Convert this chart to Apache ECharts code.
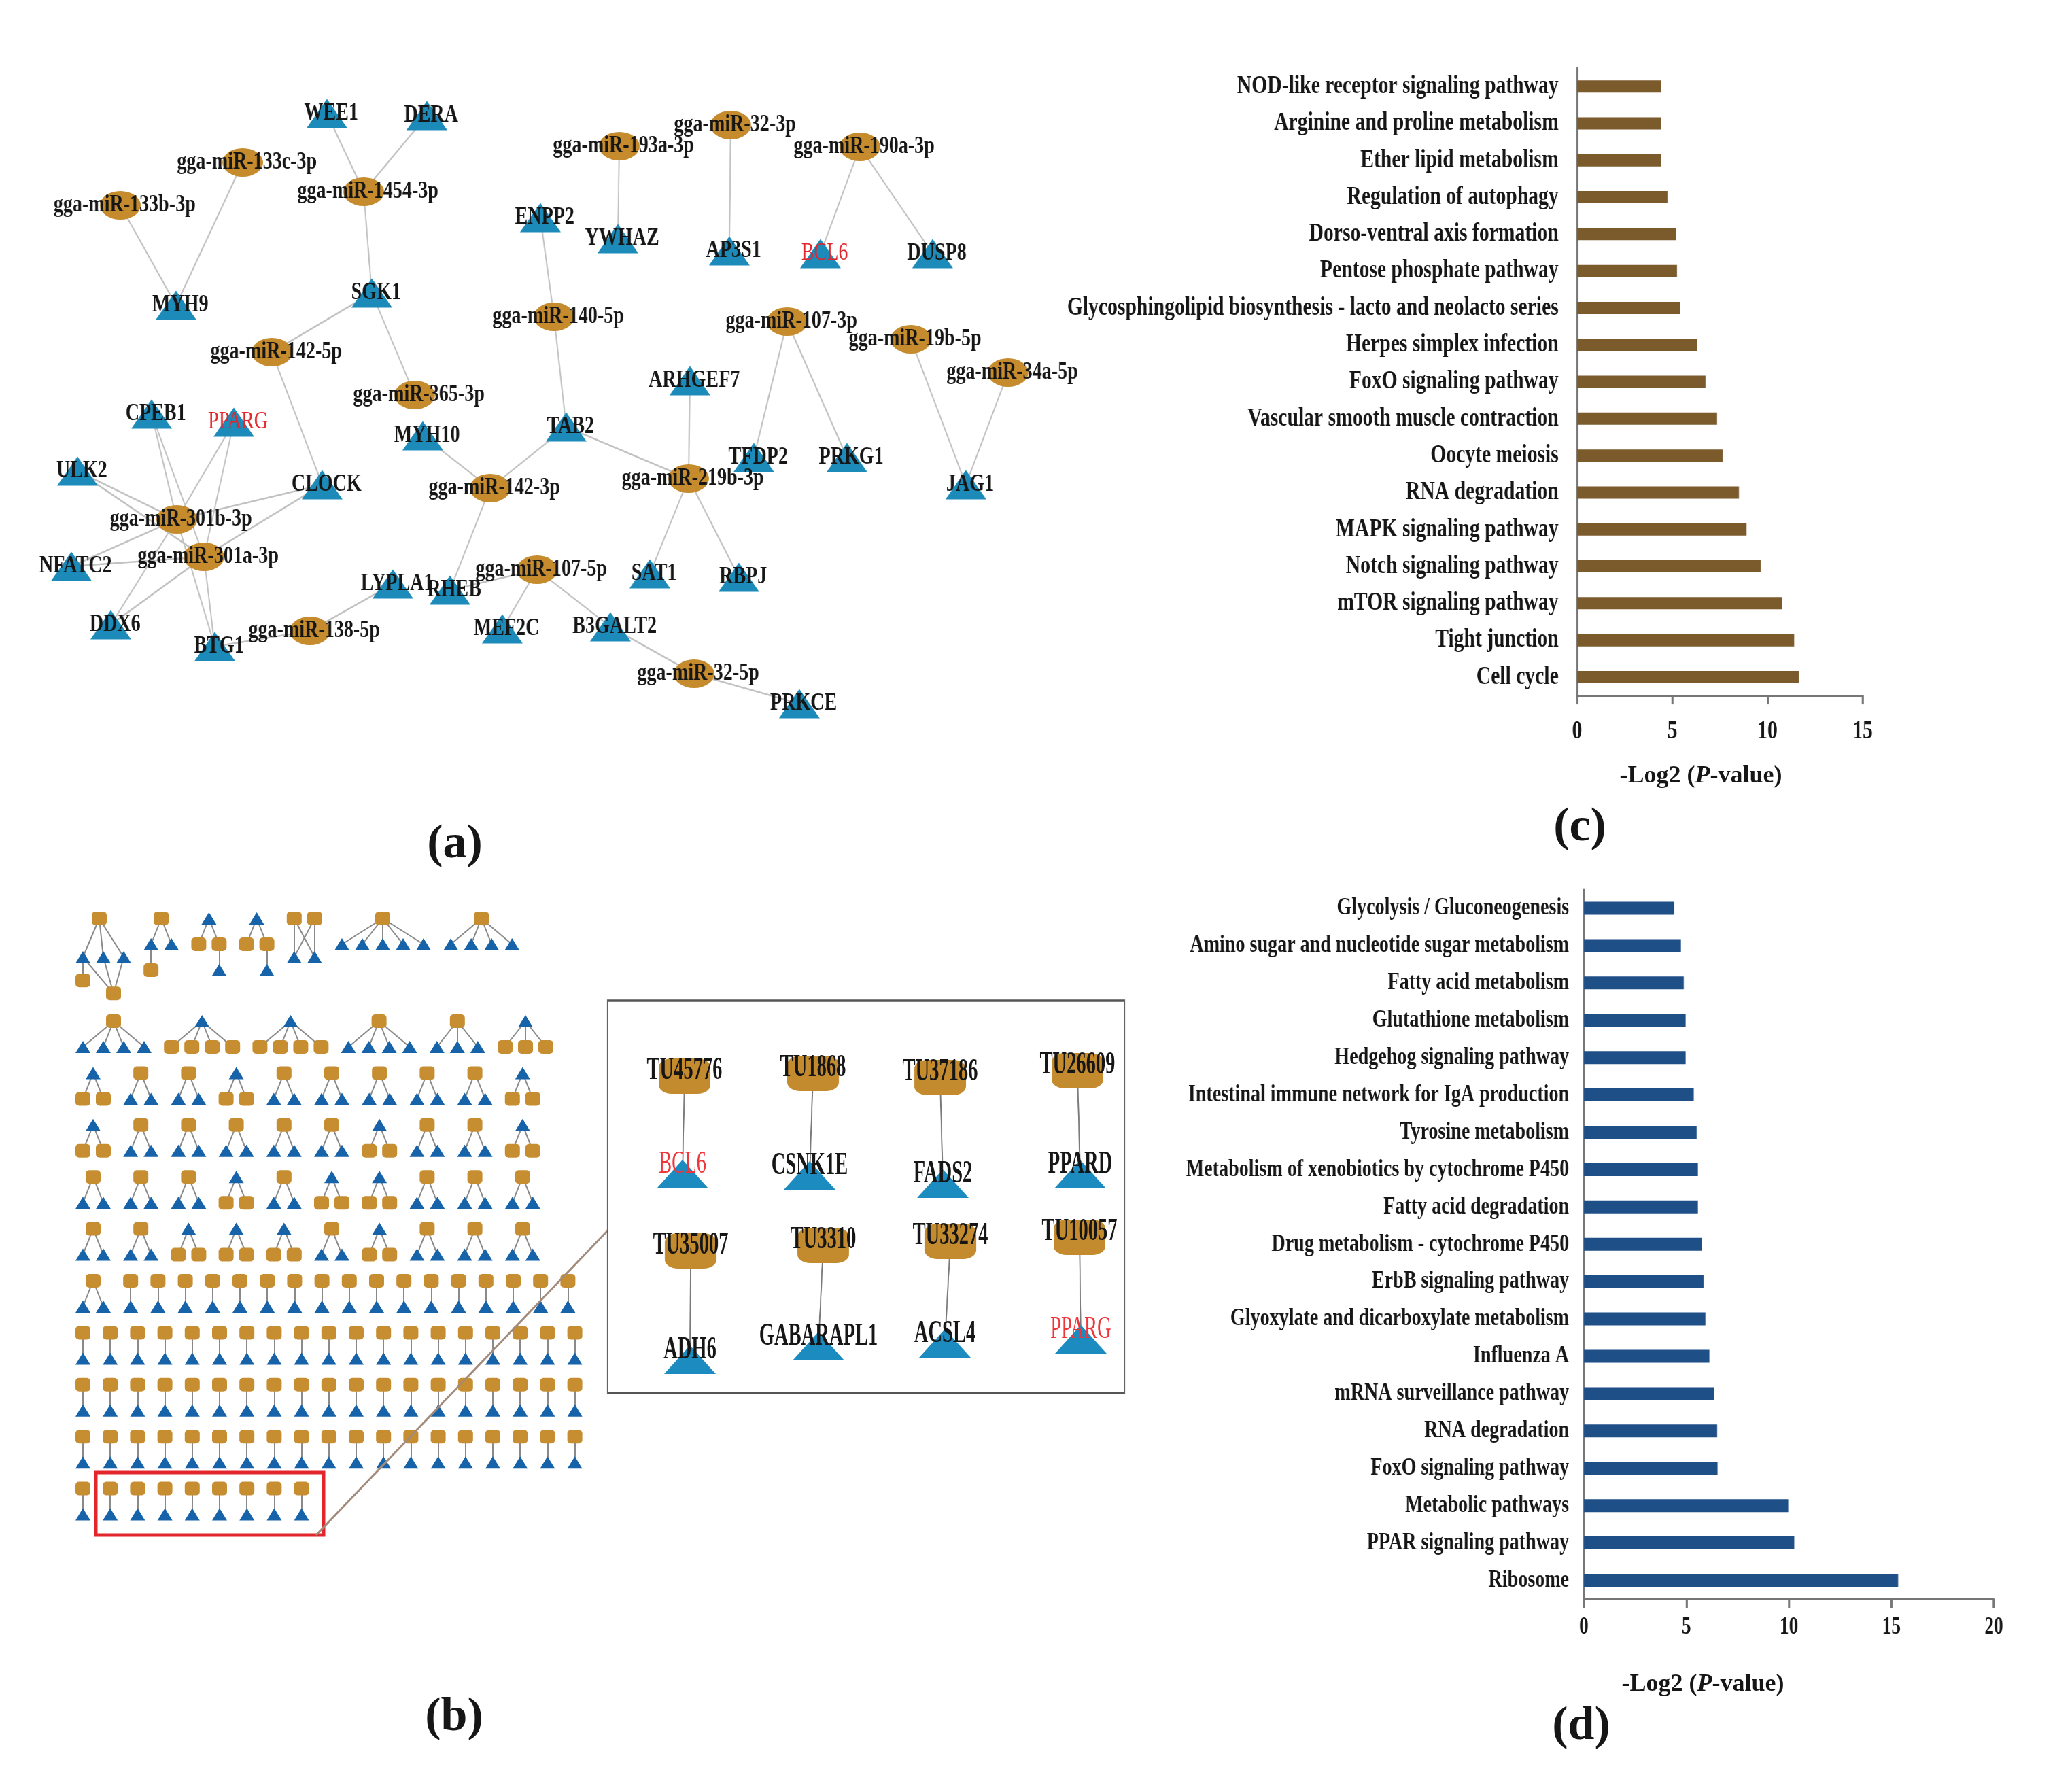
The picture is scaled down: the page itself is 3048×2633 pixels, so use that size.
<!DOCTYPE html>
<html>
<head>
<meta charset="utf-8">
<title>miRNA / lncRNA networks and KEGG enrichment</title>
<script src="https://cdn.jsdelivr.net/npm/echarts/dist/echarts.min.js"></script>
<style>
html,body{margin:0;padding:0;background:#fff;}
#stage{position:relative;width:3048px;height:2633px;overflow:hidden;background:#fff;}
#main,#netA,#bars,#inset{position:absolute;}
</style>
</head>
<body>
<div id="stage"><div id="main"></div><div id="netA"></div><div id="bars"></div><div id="inset"></div></div>
<script>
// ================= DATA =================
// ---- Panel (a): miRNA – mRNA network ----
const aMiRNAs = ['gga-miR-133c-3p','gga-miR-1454-3p','gga-miR-133b-3p','gga-miR-193a-3p','gga-miR-32-3p',
  'gga-miR-190a-3p','gga-miR-140-5p','gga-miR-142-5p','gga-miR-365-3p','gga-miR-107-3p','gga-miR-19b-5p',
  'gga-miR-34a-5p','gga-miR-142-3p','gga-miR-219b-3p','gga-miR-301b-3p','gga-miR-301a-3p','gga-miR-107-5p',
  'gga-miR-138-5p','gga-miR-32-5p'];
const aGenes = ['WEE1','DERA','ENPP2','YWHAZ','AP3S1','BCL6','DUSP8','MYH9','SGK1','ARHGEF7','CPEB1','PPARG',
  'MYH10','TAB2','TFDP2','PRKG1','ULK2','CLOCK','JAG1','NFATC2','SAT1','RBPJ','LYPLA1','RHEB','B3GALT2',
  'DDX6','MEF2C','BTG1','PRKCE'];
const aHighlighted = ['BCL6','PPARG'];
const aEdges = [
  ['gga-miR-133c-3p','MYH9'],['gga-miR-133b-3p','MYH9'],
  ['gga-miR-1454-3p','WEE1'],['gga-miR-1454-3p','DERA'],['gga-miR-1454-3p','SGK1'],
  ['gga-miR-142-5p','SGK1'],['gga-miR-365-3p','SGK1'],['gga-miR-142-5p','CLOCK'],
  ['gga-miR-193a-3p','YWHAZ'],['gga-miR-32-3p','AP3S1'],['gga-miR-190a-3p','BCL6'],['gga-miR-190a-3p','DUSP8'],
  ['gga-miR-140-5p','ENPP2'],['gga-miR-140-5p','TAB2'],['gga-miR-142-3p','TAB2'],['gga-miR-219b-3p','TAB2'],
  ['gga-miR-142-3p','MYH10'],['gga-miR-142-3p','RHEB'],
  ['gga-miR-219b-3p','ARHGEF7'],['gga-miR-219b-3p','SAT1'],['gga-miR-219b-3p','RBPJ'],
  ['gga-miR-107-3p','TFDP2'],['gga-miR-107-3p','PRKG1'],
  ['gga-miR-19b-5p','JAG1'],['gga-miR-34a-5p','JAG1'],
  ['gga-miR-107-5p','RHEB'],['gga-miR-107-5p','MEF2C'],['gga-miR-107-5p','B3GALT2'],
  ['gga-miR-32-5p','B3GALT2'],['gga-miR-32-5p','PRKCE'],
  ['gga-miR-138-5p','LYPLA1'],['gga-miR-138-5p','BTG1'],
  ['gga-miR-301b-3p','CPEB1'],['gga-miR-301b-3p','PPARG'],['gga-miR-301b-3p','ULK2'],['gga-miR-301b-3p','CLOCK'],
  ['gga-miR-301b-3p','NFATC2'],['gga-miR-301b-3p','DDX6'],['gga-miR-301b-3p','BTG1'],
  ['gga-miR-301a-3p','CPEB1'],['gga-miR-301a-3p','PPARG'],['gga-miR-301a-3p','ULK2'],['gga-miR-301a-3p','CLOCK'],
  ['gga-miR-301a-3p','NFATC2'],['gga-miR-301a-3p','DDX6'],['gga-miR-301a-3p','BTG1']
];
// network layout of panel (a) (node centres, in figure units)
const aLayout = {
  'gga-miR-133c-3p':[357,239],'gga-miR-1454-3p':[535,282],'gga-miR-133b-3p':[177,302],'gga-miR-193a-3p':[911,215],
  'gga-miR-32-3p':[1075,184],'gga-miR-190a-3p':[1265,216],'gga-miR-140-5p':[815,466],'gga-miR-142-5p':[400,518],
  'gga-miR-365-3p':[610,581],'gga-miR-107-3p':[1158,473],'gga-miR-19b-5p':[1340,499],'gga-miR-34a-5p':[1483,548],
  'gga-miR-142-3p':[721,718],'gga-miR-219b-3p':[1013,704],'gga-miR-301b-3p':[260,764],'gga-miR-301a-3p':[300,819],
  'gga-miR-107-5p':[790,838],'gga-miR-138-5p':[456,928],'gga-miR-32-5p':[1021,991],
  'WEE1':[481,167],'DERA':[628,170],'ENPP2':[795,320],'YWHAZ':[909,351],'AP3S1':[1073,369],'BCL6':[1207,373],
  'DUSP8':[1372,373],'MYH9':[259,449],'SGK1':[547,431],'ARHGEF7':[1015,560],'CPEB1':[223,609],'PPARG':[344,621],
  'MYH10':[622,641],'TAB2':[833,628],'TFDP2':[1109,673],'PRKG1':[1246,673],'ULK2':[114,693],'CLOCK':[474,713],
  'JAG1':[1421,713],'NFATC2':[105,833],'SAT1':[956,844],'RBPJ':[1087,849],'LYPLA1':[578,859],'RHEB':[662,868],
  'B3GALT2':[898,922],'DDX6':[163,919],'MEF2C':[739,925],'BTG1':[316,951],'PRKCE':[1176,1035]
};

// ---- Panel (b): lncRNA (square) – mRNA (triangle) components, row by row ----
// row 1: irregular components; nodes = [slot, depth, shape], links = node index pairs
const bRow1 = [
  {slots:3, nodes:[[0.8,0,'S'],[0,1.5,'T'],[1,1.5,'T'],[2,1.5,'T'],[0,2.4,'S'],[1.5,2.9,'S']],
   links:[[0,1],[0,2],[0,3],[1,4],[1,5],[2,5],[3,5]]},
  {slots:2, nodes:[[0.5,0,'S'],[0,1,'T'],[1,1,'T'],[0,2,'S']], links:[[0,1],[0,2],[1,3]]},
  {slots:2, nodes:[[0.5,0,'T'],[0,1,'S'],[1,1,'S'],[1,2,'T']], links:[[0,1],[0,2],[2,3]]},
  {slots:2, nodes:[[0.5,0,'T'],[0,1,'S'],[1,1,'S'],[1,2,'T']], links:[[0,1],[0,2],[2,3]]},
  {slots:2, nodes:[[0,0,'S'],[1,0,'S'],[0,1.5,'T'],[1,1.5,'T']], links:[[0,2],[0,3],[1,2],[1,3]]},
  {slots:5, nodes:[[2,0,'S'],[0,1,'T'],[1,1,'T'],[2,1,'T'],[3,1,'T'],[4,1,'T']], links:[[0,1],[0,2],[0,3],[0,4],[0,5]]},
  {slots:4, nodes:[[1.5,0,'S'],[0,1,'T'],[1,1,'T'],[2,1,'T'],[3,1,'T']], links:[[0,1],[0,2],[0,3],[0,4]]}
];
// rows 2..11: motif codes, parent shape (S = lncRNA, T = mRNA) + number of children
const bRows = [
  ['S4','T4','T4','S4','S3','T3'],
  ['T2','S2','S2','T2','S2','S2','S2','S2','S2','T2'],
  ['T2','S2','S2','S2','S2','S2','T2','S2','S2','T2'],
  ['S2','S2','S2','T2','S2','T2','T2','S2','S2','S2'],
  ['S2','S2','T2','T2','T2','S2','T2','S2','S2','S2'],
  ['S2'].concat(Array(17).fill('S1')),
  Array(19).fill('S1'),
  Array(19).fill('S1'),
  Array(19).fill('S1'),
  Array(9).fill('S1')
];

// ---- Panel (b) inset: highlighted lncRNA – target pairs ----
const insetPairs = [['TU45776','BCL6'],['TU1868','CSNK1E'],['TU37186','FADS2'],['TU26609','PPARD'],
  ['TU35007','ADH6'],['TU3310','GABARAPL1'],['TU33274','ACSL4'],['TU10057','PPARG']];
const insetHighlighted = ['BCL6','PPARG'];
// inset layout (lncRNA centre, gene centre), in inset units
const insetLayout = [[[113,111],[110,255]],[[302,107],[297,257]],[[489,113],[493,269]],[[691,103],[695,255]],
  [[122,368],[121,528]],[[317,360],[310,508]],[[504,354],[496,504]],[[694,348],[696,498]]];

// ---- Panel (c): KEGG enrichment, miRNA targets ----
const cTerms = ['NOD-like receptor signaling pathway','Arginine and proline metabolism','Ether lipid metabolism',
  'Regulation of autophagy','Dorso-ventral axis formation','Pentose phosphate pathway',
  'Glycosphingolipid biosynthesis - lacto and neolacto series','Herpes simplex infection','FoxO signaling pathway',
  'Vascular smooth muscle contraction','Oocyte meiosis','RNA degradation','MAPK signaling pathway',
  'Notch signaling pathway','mTOR signaling pathway','Tight junction','Cell cycle'];
const cValues = [4.4,4.4,4.4,4.75,5.2,5.25,5.4,6.3,6.75,7.35,7.65,8.5,8.9,9.65,10.75,11.4,11.65];
const cTicks = [0,5,10,15];

// ---- Panel (d): KEGG enrichment, lncRNA targets ----
const dTerms = ['Glycolysis / Gluconeogenesis','Amino sugar and nucleotide sugar metabolism','Fatty acid metabolism',
  'Glutathione metabolism','Hedgehog signaling pathway','Intestinal immune network for IgA production',
  'Tyrosine metabolism','Metabolism of xenobiotics by cytochrome P450','Fatty acid degradation',
  'Drug metabolism - cytochrome P450','ErbB signaling pathway','Glyoxylate and dicarboxylate metabolism',
  'Influenza A','mRNA surveillance pathway','RNA degradation','FoxO signaling pathway','Metabolic pathways',
  'PPAR signaling pathway','Ribosome'];
const dValues = [4.4,4.73,4.87,4.96,4.96,5.36,5.5,5.56,5.56,5.75,5.84,5.93,6.12,6.35,6.5,6.52,9.97,10.26,15.33];
const dTicks = [0,5,10,15,20];

const panelLabels = ['(a)','(b)','(c)','(d)'];
const axisTitle = ['-Log2 (','P','-value)'];

// ================= STYLE / LAYOUT =================
const FONT = '"Liberation Serif","Times New Roman",serif';
const W = 3048, H = 2633;
const TXT = '#161616', RED = '#e3262b';
const GOLD_A = '#c58b2d', BLUE_A = '#1c8bba', GOLD_B = '#c78e31', BLUE_B = '#1663a9';

function place(el, l, t, w, h, sx) {
  el.style.left = l + 'px'; el.style.top = t + 'px';
  el.style.width = w + 'px'; el.style.height = h + 'px';
  if (sx) { el.style.transform = 'scaleX(' + sx + ')'; el.style.transformOrigin = '0 0'; }
}

// ---- build panel (b) nodes by packing components along each row ----
const B_X0 = 122, B_SLOT = 30, B_GAP = 40.2, B_DEPTH = 38, B_TOP1 = 1351, B_TOP2 = 1502, B_ROWSTEP = 76.4;
const bNodes = [], bLinks = [];
function motif(code) {
  const shape = code[0], n = +code.slice(1), child = shape === 'S' ? 'T' : 'S';
  const nodes = [[(n - 1) / 2, 0, shape]], links = [];
  for (let k = 0; k < n; k++) { nodes.push([k, 1, child]); links.push([0, k + 1]); }
  return {slots: n, nodes, links};
}
function packRow(comps, y0) {
  let x = B_X0;
  comps.forEach(c => {
    const base = bNodes.length;
    c.nodes.forEach(([slot, depth, shape]) => {
      bNodes.push({
        name: 'b' + bNodes.length, value: [x + slot * B_SLOT, y0 + depth * B_DEPTH],
        symbol: shape === 'S' ? 'roundRect' : 'triangle',
        symbolSize: shape === 'S' ? [22, 20] : [22, 18],
        itemStyle: {color: shape === 'S' ? GOLD_B : BLUE_B}
      });
    });
    c.links.forEach(([i, j]) => bLinks.push({source: base + i, target: base + j}));
    x += (c.slots - 1) * B_SLOT + B_GAP;
  });
}
packRow(bRow1, B_TOP1);
bRows.forEach((row, r) => packRow(row.map(motif), B_TOP2 + r * B_ROWSTEP));

// ================= MAIN CHART (panel b + annotations) =================
const mainEl = document.getElementById('main');
place(mainEl, 0, 0, W, H);
const main = echarts.init(mainEl);
const rich35 = {
  n: {fontFamily: FONT, fontSize: 36, fontWeight: 'bold', fill: TXT, color: TXT},
  i: {fontFamily: FONT, fontSize: 36, fontWeight: 'bold', fontStyle: 'italic', fill: TXT, color: TXT}
};
const titleText = '{n|' + axisTitle[0] + '}{i|' + axisTitle[1] + '}{n|' + axisTitle[2] + '}';
const panelPos = [[669, 1243], [668, 2527], [2324, 1218], [2326, 2540]];
main.setOption({
  animation: false,
  backgroundColor: '#ffffff',
  grid: {left: 0, right: 0, top: 0, bottom: 0, containLabel: false, outerBoundsMode: 'none'},
  xAxis: {type: 'value', min: 0, max: W, show: false},
  yAxis: {type: 'value', min: 0, max: H, inverse: true, show: false},
  series: [
    {
      type: 'graph', coordinateSystem: 'cartesian2d', roam: false, z: 3,
      data: bNodes, links: bLinks,
      lineStyle: {color: '#8a8a8a', width: 2, opacity: 1},
      label: {show: false},
      emphasis: {disabled: true}
    }
  ],
  graphic: [
    {type: 'rect', z: 10, shape: {x: 141, y: 2166, width: 335, height: 92},
     style: {fill: 'none', stroke: RED, lineWidth: 5}},
    {type: 'line', z: 10, shape: {x1: 465, y1: 2258, x2: 894, y2: 1810},
     style: {stroke: '#a38b7b', lineWidth: 3}},
    {type: 'text', z: 10, x: 2502, y: 1142,
     style: {text: titleText, rich: rich35, align: 'center', verticalAlign: 'middle'}},
    {type: 'text', z: 10, x: 2505, y: 2478,
     style: {text: titleText, rich: rich35, align: 'center', verticalAlign: 'middle'}}
  ].concat(panelLabels.map((t, i) => ({
    type: 'text', z: 10, x: panelPos[i][0], y: panelPos[i][1],
    style: {text: t, fontFamily: FONT, fontSize: 70, fontWeight: 'bold', fill: TXT,
            align: 'center', verticalAlign: 'middle'}
  })))
});

// ================= PANEL (a) NETWORK =================
const AS = 0.78, AW = 1660, AH = 1100;
const netAEl = document.getElementById('netA');
place(netAEl, 0, 0, AW / AS, AH, AS);
const netA = echarts.init(netAEl);
const aNodes = aMiRNAs.map(n => ({
  name: n, value: aLayout[n], symbol: 'circle', symbolSize: [60 / AS, 42], itemStyle: {color: GOLD_A}
})).concat(aGenes.map(n => ({
  name: n, value: aLayout[n], symbol: 'triangle', symbolSize: [60 / AS, 43], itemStyle: {color: BLUE_A},
  label: aHighlighted.includes(n) ? {color: RED, fontWeight: 'normal'} : {}
})));
const aLinks = aEdges.map(([s, t]) => ({source: s, target: t}));
netA.setOption({
  animation: false,
  grid: {left: 0, right: 0, top: 0, bottom: 0, containLabel: false, outerBoundsMode: 'none'},
  xAxis: {type: 'value', min: 0, max: AW, show: false},
  yAxis: {type: 'value', min: 0, max: AH, inverse: true, show: false},
  series: [{
    type: 'graph', coordinateSystem: 'cartesian2d', roam: false,
    data: aNodes, links: aLinks,
    lineStyle: {color: '#c2c2c2', width: 2.6, opacity: 1, curveness: 0},
    label: {show: true, position: 'inside', offset: [8, 0], fontFamily: FONT, fontWeight: 'bold',
            fontSize: 36, color: TXT},
    emphasis: {disabled: true}
  }]
});

// ================= INSET (zoom of red box) =================
const IS = 0.62;
const insetEl = document.getElementById('inset');
place(insetEl, 884, 1462, 780 / IS, 597, IS);
const inset = echarts.init(insetEl);
const insetNodes = [], insetLinks = [];
insetPairs.forEach(([lnc, gene], i) => {
  insetNodes.push({name: lnc, value: insetLayout[i][0], symbol: 'roundRect', symbolSize: [76 / IS, 52],
    itemStyle: {color: '#c48a2e'}, label: {offset: [0, -8]}});
  insetNodes.push({name: gene + '_' + i, value: insetLayout[i][1], symbol: 'triangle', symbolSize: [76 / IS, 42],
    itemStyle: {color: '#1b8bc0'},
    label: {formatter: gene, offset: [0, -14], color: insetHighlighted.includes(gene) ? '#f0353a' : TXT,
            fontWeight: insetHighlighted.includes(gene) ? 'normal' : 'bold'}});
  insetLinks.push({source: 2 * i, target: 2 * i + 1});
});
inset.setOption({
  animation: false,
  grid: {left: 10 / IS, right: 10 / IS, top: 10, bottom: 10, show: true, borderColor: '#555555',
         borderWidth: 3.4, backgroundColor: 'rgba(0,0,0,0)', containLabel: false, outerBoundsMode: 'none'},
  xAxis: {type: 'value', min: 0, max: 760, show: false},
  yAxis: {type: 'value', min: 0, max: 577, inverse: true, show: false},
  series: [{
    type: 'graph', coordinateSystem: 'cartesian2d', roam: false,
    data: insetNodes, links: insetLinks,
    lineStyle: {color: '#7a7a7a', width: 3, opacity: 1},
    label: {show: true, position: 'inside', fontFamily: FONT, fontWeight: 'bold', fontSize: 46, color: TXT},
    emphasis: {disabled: true}
  }]
});

// ================= BAR CHARTS (panels c, d) =================
const S = 0.78, BX = 1500;
const sx = v => (v - BX) / S;
const barsEl = document.getElementById('bars');
place(barsEl, BX, 0, (W - BX) / S, H, S);
const bars = echarts.init(barsEl);
const AXC = '#767676';
function valueAxis(gi, max, ticks, fs, margin) {
  return {gridIndex: gi, type: 'value', min: 0, max: max, interval: ticks[1] - ticks[0],
    axisLine: {show: true, lineStyle: {color: AXC, width: 3}},
    axisTick: {show: true, length: 13, lineStyle: {color: AXC, width: 3 / S}},
    splitLine: {show: false},
    axisLabel: {fontFamily: FONT, fontWeight: 'bold', fontSize: fs, color: TXT, margin: margin}};
}
function catAxis(gi, data, fs, margin) {
  return {gridIndex: gi, type: 'category', data: data, inverse: true,
    axisLine: {show: true, lineStyle: {color: AXC, width: 3 / S}},
    axisTick: {show: false},
    axisLabel: {interval: 0, fontFamily: FONT, fontWeight: 'bold', fontSize: fs, color: TXT, margin: margin}};
}
bars.setOption({
  animation: false,
  grid: [
    {left: sx(2320), top: 100, width: 420 / S, height: 17 * 54.3, containLabel: false, outerBoundsMode: 'none'},
    {left: sx(2330), top: 1308.5, width: 603 / S, height: 19 * 54.92, containLabel: false, outerBoundsMode: 'none'}
  ],
  xAxis: [valueAxis(0, 15, cTicks, 38, 34), valueAxis(1, 20, dTicks, 35, 24)],
  yAxis: [catAxis(0, cTerms, 38, 35), catAxis(1, dTerms, 36, 28)],
  series: [
    {type: 'bar', xAxisIndex: 0, yAxisIndex: 0, data: cValues, barWidth: 18,
     itemStyle: {color: '#7b5a2c'}, emphasis: {disabled: true}},
    {type: 'bar', xAxisIndex: 1, yAxisIndex: 1, data: dValues, barWidth: 19,
     itemStyle: {color: '#1f4f87'}, emphasis: {disabled: true}}
  ]
});
</script>
</body>
</html>
